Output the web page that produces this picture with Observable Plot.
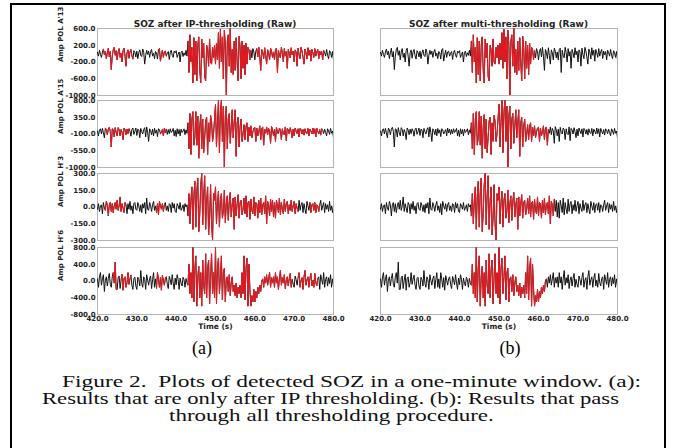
<!DOCTYPE html>
<html><head><meta charset="utf-8">
<script src="https://cdn.jsdelivr.net/npm/d3@7"></script>
<script src="https://cdn.jsdelivr.net/npm/@observablehq/plot@0.6"></script>
<style>
body{margin:0;background:#fff;}
#fig{position:relative;width:681px;height:448px;overflow:hidden;background:#fff;}
#border{position:absolute;left:10px;top:3px;width:652px;height:470px;border:2px solid #000;}
.panel{position:absolute;}
.panel svg{overflow:visible;background:transparent;}
.ttl{position:absolute;font:bold 9px "DejaVu Sans";color:#222;transform:translate(-50%,-50%);white-space:nowrap;}
.sub{position:absolute;font-family:"Liberation Serif","Times New Roman",Times,serif;font-size:18px;color:#000;transform:translate(-50%,-50%);white-space:nowrap;}
.cap{position:absolute;font-family:"Liberation Serif","Times New Roman",Times,serif;font-size:17.5px;color:#111;white-space:pre;line-height:17px;transform-origin:left center;}
</style></head>
<body>
<div id="fig"><div id="border"></div></div>
<script>
// ---- data ----
const timeStart = 420, timeStep = 0.25;
const xTicks = [420, 430, 440, 450, 460, 470, 480];
const titles = ["SOZ after IP-thresholding (Raw)", "SOZ after multi-thresholding (Raw)"];
const channelLabels = ["Amp POL A'13", "Amp POL A'15", "Amp POL H'3", "Amp POL H'6"];
const yDomains = [[-1000, 600], [-1000, 800], [-300, 300], [-800, 800]];
const yTicks = [
  [600, 200, -200, -600, -1000],
  [800, 350, -100, -550, -1000],
  [300, 150, 0, -150, -300],
  [800, 400, 0, -400, -800]
];
const ampA13 = [
  30,-60,80,-20,-90,40,110,-30,60,-120,20,130,-80,50,-380,-60,90,150,-40,70,
  -150,40,120,-90,10,-200,80,130,-60,-300,20,90,-110,40,100,-50,-130,70,30,-80,
  60,-120,20,90,-40,-70,110,30,-250,-40,80,-20,60,-90,40,100,-60,10,-120,50,
  20,-130,90,120,-180,-30,80,-90,40,60,-60,10,50,-140,30,80,-40,-90,60,20,
  70,-90,-20,40,-200,30,60,-70,20,-40,80,-60,300,-450,450,-200,150,-700,380,-500,
  300,-650,200,400,-400,-700,350,-100,250,-550,-650,200,100,-300,350,-200,-250,150,-100,200,
  -250,250,-150,500,-350,580,-200,400,-600,560,200,-1000,300,450,-300,600,-450,100,-500,300,
  -400,380,-200,-650,420,150,-600,300,-350,200,-500,250,-250,150,100,-150,80,-100,120,40,
  -150,60,120,-80,150,-60,-400,100,30,-120,140,-50,-250,90,20,-150,130,60,-100,40,
  -150,100,130,-450,80,-40,-100,150,20,-200,120,-60,50,-350,100,10,-100,140,-30,60,
  -200,90,40,-300,130,-20,-120,150,60,-80,-250,110,30,-130,140,-40,80,-180,100,20,
  -90,120,-60,40,100,-120,60,-30,50,-150,80,20,-60,100,-40,-120,70,30,-90,50,
  -150
];
const ampA15 = [
  -20,-150,10,40,-100,50,-70,-200,60,10,-120,30,80,-30,-450,40,20,-180,70,-60,
  -150,70,20,-150,20,-60,-250,60,10,-120,30,-90,40,-20,-160,20,60,-110,-30,60,
  -140,30,10,-200,50,-40,-100,20,70,-180,90,-60,-300,40,-10,-120,30,-150,50,-80,
  10,-170,40,20,-100,-40,20,-150,60,-70,30,-110,20,-90,40,-60,-20,50,-150,0,
  -170,40,-100,20,-150,30,-60,-20,40,-120,10,-80,200,-500,450,-650,300,500,-400,-200,
  500,-400,380,-750,100,420,-500,300,-600,-200,250,350,-650,200,-300,400,250,-300,-100,300,
  700,-450,200,800,-600,500,800,-300,650,-1000,400,650,-500,300,450,-350,100,550,-200,200,
  550,-700,200,350,-450,100,300,-300,-100,150,-250,100,200,-300,80,-150,120,-200,-50,60,
  80,-300,60,-150,-40,120,-250,40,90,-400,20,-80,90,-120,50,-20,-350,100,10,-150,
  30,-300,80,-60,-100,60,20,-250,40,-90,-120,90,-280,50,10,-100,70,-40,-200,30,
  -150,60,-20,-90,40,-180,50,10,-100,20,-130,40,-60,-90,50,-150,30,-20,-100,60,
  -90,40,-180,50,-30,-100,20,-130,40,0,-90,30,-60,-150,40,-20,-110,50,-80,-20,
  -200
];
const ampH3 = [
  -20,30,-40,10,20,-60,40,-10,-30,50,20,-80,20,40,-40,30,-50,10,40,-20,
  60,-30,10,90,-40,30,-10,-50,40,20,-60,30,-20,50,-30,10,-60,30,40,-20,
  -30,40,10,-40,20,-50,30,-10,40,-60,80,-20,-30,40,10,-40,20,50,-30,10,
  -50,30,-70,50,10,-20,30,-40,20,40,-30,10,-40,30,20,-50,40,-10,30,-40,
  -50,30,10,-20,40,-30,-10,20,-40,30,0,20,-80,120,-150,60,180,-200,100,230,
  -180,140,260,-220,-60,200,300,-160,100,280,-200,50,180,-250,-100,200,-150,-300,120,60,
  180,-150,40,140,-180,60,120,-100,-40,150,-140,30,100,-120,50,130,-90,20,80,-200,
  90,-80,30,110,-100,40,60,-70,-20,80,-60,100,-90,40,50,-110,70,-30,-60,90,
  -80,40,30,-100,60,-50,80,-70,20,40,-60,100,-150,50,20,-80,70,-40,60,-90,
  40,-100,60,10,-50,80,-70,40,-20,-60,70,-40,30,50,-60,20,-30,60,-40,10,
  50,-60,30,-10,-40,60,-30,20,40,-50,30,-20,-60,50,10,-30,40,-50,20,30,
  -30,40,-50,20,10,-40,20,60,-30,10,40,-50,30,-20,20,-40,50,-30,10,-50,
  20
];
const ampH6 = [
  50,-150,100,200,-100,50,150,-250,20,100,-120,60,180,-80,-150,100,200,-50,450,-200,
  -200,80,120,-180,20,160,-220,60,100,-150,-40,200,-80,50,140,-100,-200,60,90,-120,
  -200,90,30,-120,250,-60,-150,100,40,-200,150,20,-100,60,120,-180,30,200,-150,50,
  -180,200,50,-150,80,-220,130,20,-100,60,100,-80,-180,110,30,-90,150,-50,-200,70,
  -90,150,40,-200,70,-50,-120,90,30,-150,60,-40,-100,400,-300,200,-400,800,-500,300,
  600,-600,100,350,-400,200,-600,500,-100,-300,650,-400,300,500,-550,100,650,-300,200,-400,
  800,-550,300,550,-300,100,600,-450,200,300,-500,50,100,-250,150,-350,-50,100,-250,-100,
  -350,-50,-400,-150,-300,-100,-400,200,-300,600,-450,300,550,-600,400,-200,-600,-350,-500,-200,
  -500,-250,-400,-150,-300,-100,-250,0,50,-150,100,-50,150,-100,50,200,-150,80,-50,100,
  -150,200,-50,100,-200,50,250,-100,80,-50,150,-180,20,100,-120,60,180,-150,40,-80,
  -150,120,30,-100,80,200,-150,20,80,-200,100,250,-100,30,100,-150,60,180,-120,20,
  -150,180,-40,-120,60,100,-200,150,30,-80,200,-150,40,100,-120,80,-60,150,-150,50,
  -100
];
const channels = [ampA13, ampA15, ampH3, ampH6];
// red (detected SOZ) intervals, seconds
const redIP = [
  [[421.5, 429], [435.5, 437.5], [443, 459], [460.5, 477.5]],
  [[422, 428], [436, 437.5], [443, 477]],
  [[422, 427], [435, 437], [443, 471], [474, 476.5]],
  [[424, 425], [426, 428.5], [435, 437.5], [443, 469.5], [471, 476]]
];
const redMulti = [
  [[443, 459]],
  [[443, 462.5]],
  [[443, 464]],
  [[443, 462]]
];
const redSets = [redIP, redMulti];

// ---- layout ----
const fig = document.getElementById("fig");
const frameTops = [28, 100, 173, 247];
const frameH = 67;
const cols = [
  {left: 0, width: 345, ml: 97, mr: 12},
  {left: 345, width: 336, ml: 35, mr: 64}
];

function series(vals) { return vals.map((v, i) => ({t: timeStart + i * timeStep, v})); }
function redPoints(data, ivs) {
  const out = [];
  ivs.forEach((iv, k) => data.forEach(d => { if (d.t >= iv[0] && d.t <= iv[1]) out.push({...d, seg: k}); }));
  return out;
}

cols.forEach((c, ci) => {
  channels.forEach((vals, r) => {
    const data = series(vals);
    const red = redPoints(data, redSets[ci][r]);
    const last = r === 3;
    const mt = 10, mb = last ? 26 : 10;
    const marks = [
      Plot.frame({stroke: "#b4b4b4", strokeWidth: 1}),
      Plot.line(data, {x: "t", y: "v", stroke: "#111", strokeWidth: 1, clip: true}),
      Plot.line(red, {x: "t", y: "v", z: "seg", stroke: "#f01820", strokeWidth: 1, clip: true})
    ];
    if (ci === 0) {
      marks.push(Plot.axisY({ticks: yTicks[r], tickFormat: d => d.toFixed(1), tickSize: 0, tickPadding: 2,
        fontWeight: "bold", fontSize: 7, fill: "#222", label: null}));
      marks.push(Plot.text([channelLabels[r]], {frameAnchor: "left", dx: -37, rotate: -90,
        fontWeight: "bold", fontSize: 7, fill: "#222"}));
    }
    if (last) {
      marks.push(Plot.axisX({ticks: xTicks, tickFormat: d => d.toFixed(1), tickSize: 0, tickPadding: 2,
        fontWeight: "bold", fontSize: 7, fill: "#222", label: null}));
      marks.push(Plot.text(["Time (s)"], {frameAnchor: "bottom", dy: 14.5,
        fontWeight: "bold", fontSize: 7.5, fill: "#222"}));
    }
    const svg = Plot.plot({
      width: c.width, height: mt + frameH + mb,
      marginLeft: c.ml, marginRight: c.mr, marginTop: mt, marginBottom: mb,
      style: {background: "transparent", overflow: "visible", fontFamily: "DejaVu Sans"},
      x: {domain: [420, 480], axis: null},
      y: {domain: yDomains[r], axis: null},
      marks
    });
    const div = document.createElement("div");
    div.className = "panel";
    div.style.left = c.left + "px";
    div.style.top = (frameTops[r] - mt) + "px";
    div.appendChild(svg);
    fig.appendChild(div);
  });
});

function addDiv(cls, text, x, y) {
  const d = document.createElement("div");
  d.className = cls; d.textContent = text;
  d.style.left = x + "px"; d.style.top = y + "px";
  fig.appendChild(d); return d;
}
addDiv("ttl", titles[0], 215, 24);
addDiv("ttl", titles[1], 498.5, 24);
addDiv("sub", "(a)", 202, 348);
addDiv("sub", "(b)", 510, 348);

const capLines = [
  {text: "Figure 2.  Plots of detected SOZ in a one-minute window. (a):", x: 62, y: 381, w: 579},
  {text: "Results that are only after IP thresholding. (b): Results that pass", x: 42, y: 398, w: 577},
  {text: "through all thresholding procedure.", x: 331, y: 415, center: true}
];
const scales = [];
capLines.forEach(l => {
  const d = addDiv("cap", l.text, 0, 0);
  const nat = d.getBoundingClientRect().width;
  let s, left;
  if (l.center) {
    s = d3.mean(scales);
    left = l.x - nat * s / 2;
  } else {
    s = l.w / nat; scales.push(s); left = l.x;
  }
  d.style.left = left + "px";
  d.style.top = (l.y - 8.5) + "px";
  d.style.transform = `scaleX(${s})`;
});
</script>
</body></html>
